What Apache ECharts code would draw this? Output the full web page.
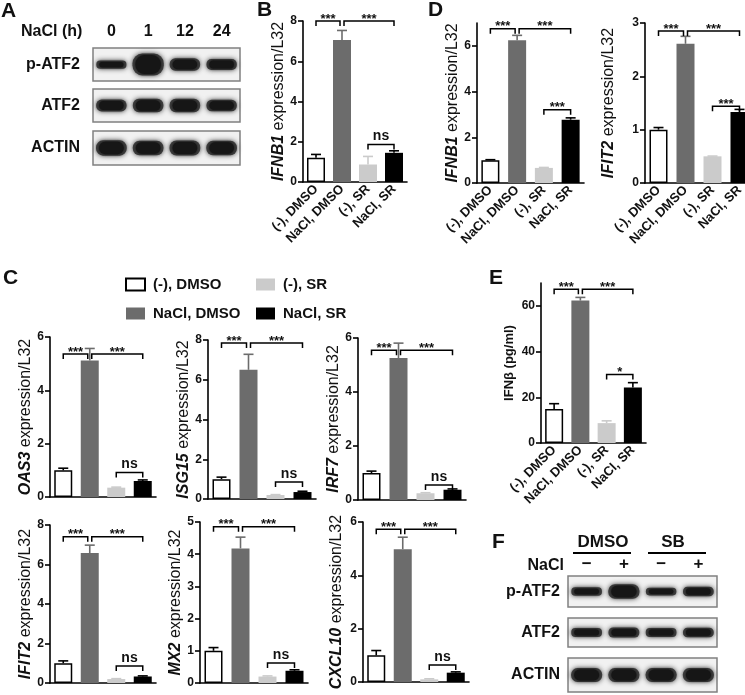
<!DOCTYPE html>
<html><head><meta charset="utf-8">
<script src="https://cdn.jsdelivr.net/npm/echarts@6/dist/echarts.min.js"></script>
<style>html,body{margin:0;padding:0;background:#fff}#c{width:745px;height:695px}</style>
</head><body><div id="c"></div>
<script>
// ---------- DATA ----------
const groups = ['(-), DMSO', 'NaCl, DMSO', '(-), SR', 'NaCl, SR'];

// Panel B
const ifnb1B = [1.2, 7.05, 0.87, 1.45];
const ifnb1BErr = [0.17, 0.48, 0.4, 0.1];
const ifnb1BSig = [[0, 1, 8.0], [1, 3, 8.0], [2, 3, 1.86]];
const ifnb1BSigText = ['***', '***', 'ns'];

// Panel D
const ifnb1D = [1.0, 6.24, 0.66, 2.77];
const ifnb1DErr = [0.02, 0.22, 0.02, 0.08];
const ifnb1DSig = [[0, 1, 6.75], [1, 3, 6.75], [2, 3, 3.2]];
const ifnb1DSigText = ['***', '***', '***'];
const ifit2D = [1.0, 2.61, 0.5, 1.33];
const ifit2DErr = [0.04, 0.14, 0.005, 0.05];
const ifit2DSig = [[0, 1, 2.85], [1, 3, 2.85], [2, 3, 1.44]];
const ifit2DSigText = ['***', '***', '***'];

// Panel C
const oas3 = [1.0, 5.12, 0.35, 0.6];
const oas3Err = [0.08, 0.45, 0.02, 0.04];
const oas3Sig = [[0, 1, 5.36], [1, 3, 5.36], [2, 3, 0.92]];
const isg15 = [1.0, 6.5, 0.2, 0.35];
const isg15Err = [0.1, 0.78, 0.02, 0.04];
const isg15Sig = [[0, 1, 7.85], [1, 3, 7.85], [2, 3, 0.85]];
const irf7 = [1.0, 5.26, 0.25, 0.38];
const irf7Err = [0.07, 0.55, 0.02, 0.03];
const irf7Sig = [[0, 1, 5.55], [1, 3, 5.55], [2, 3, 0.56]];
const ifit2C = [1.0, 6.58, 0.2, 0.33];
const ifit2CErr = [0.12, 0.4, 0.02, 0.03];
const ifit2CSig = [[0, 1, 7.4], [1, 3, 7.4], [2, 3, 0.86]];
const mx2 = [1.0, 4.18, 0.2, 0.38];
const mx2Err = [0.1, 0.35, 0.02, 0.03];
const mx2Sig = [[0, 1, 4.85], [1, 3, 4.85], [2, 3, 0.62]];
const cxcl10 = [1.0, 4.98, 0.1, 0.35];
const cxcl10Err = [0.18, 0.45, 0.02, 0.03];
const cxcl10Sig = [[0, 1, 5.73], [1, 3, 5.73], [2, 3, 0.64]];
const cSigText = ['***', '***', 'ns'];

// Panel E
const ifnbE = [14.9, 62.3, 8.7, 24.3];
const ifnbEErr = [2.3, 1.4, 1.0, 2.1];
const ifnbESig = [[0, 1, 67.3], [1, 3, 67.3], [2, 3, 30.0]];
const ifnbESigText = ['***', '***', '*'];

// Western blots (relative band thickness)
const lanesA = ['0', '1', '12', '24'];
const bandA_pATF2 = [0.25, 0.66, 0.38, 0.33];
const bandA_ATF2 = [0.36, 0.41, 0.41, 0.35];
const bandA_ACTIN = [0.45, 0.42, 0.44, 0.42];
const lanesF = ['\u2212', '+', '\u2212', '+'];
const bandF_pATF2 = [0.27, 0.47, 0.25, 0.31];
const bandF_ATF2 = [0.31, 0.35, 0.31, 0.33];
const bandF_ACTIN = [0.41, 0.41, 0.41, 0.41];

// ---------- STYLE ----------
const FF = 'Liberation Sans, Arial, Helvetica, sans-serif';
const barColors = ['#ffffff', '#6c6c6c', '#cbcbcb', '#000000'];
const errColors = ['#000000', '#6c6c6c', '#cbcbcb', '#000000'];

const chart = echarts.init(document.getElementById('c'));
const grids = [], xAxes = [], yAxes = [], series = [];

function errRender(params, api) {
  const i = api.value(0), m = api.value(1), e = api.value(2);
  const p0 = api.coord([i, m]), p1 = api.coord([i, m + e]);
  const c = errColors[i];
  return { type: 'group', children: [
    { type: 'line', shape: { x1: p0[0], y1: p0[1], x2: p1[0], y2: p1[1] }, style: { stroke: c, lineWidth: 1.6 } },
    { type: 'line', shape: { x1: p1[0] - 5, y1: p1[1], x2: p1[0] + 5, y2: p1[1] }, style: { stroke: c, lineWidth: 1.6 } }
  ]};
}
function bracketRender(texts) {
  return function (params, api) {
    const x1 = api.value(0), x2 = api.value(1), y = api.value(2);
    const a = api.coord([x1, y]), b = api.coord([x2, y]);
    let ax = a[0], bx = b[0];
    if (x1 === 1) ax += 2;
    if (x2 === 1) bx -= 2;
    const ly = a[1], d = 5;
    const t = texts[params.dataIndex];
    const isNs = t === 'ns';
    return { type: 'group', children: [
      { type: 'polyline', shape: { points: [[ax, ly + d], [ax, ly], [bx, ly], [bx, ly + d]] }, style: { stroke: '#000', lineWidth: 1.5, fill: null } },
      { type: 'text', x: (ax + bx) / 2, y: ly - (isNs ? 8 : 2),
        style: { text: t, align: 'center', verticalAlign: 'middle', fill: '#111',
          font: (isNs ? 'bold 14px ' : 'bold 13px ') + FF } }
    ]};
  };
}

function addBarChart(cfg) {
  const k = grids.length;
  grids.push({ left: cfg.left, top: cfg.top, width: cfg.width, height: cfg.height, containLabel: false, outerBoundsMode: 'none' });
  xAxes.push({ type: 'category', gridIndex: k, data: groups,
    axisLine: { show: true, onZero: false, lineStyle: { color: '#000', width: 1.6 } },
    axisTick: { show: false }, splitLine: { show: false },
    axisLabel: { show: !!cfg.xlabels, rotate: 45, interval: 0, margin: 5, fontSize: 13, fontWeight: 'bold', color: '#111', fontFamily: FF } });
  const yAxis = { type: 'value', gridIndex: k, min: 0, max: cfg.max, interval: cfg.interval,
    axisLine: { show: true, lineStyle: { color: '#000', width: 1.6 } },
    axisTick: { show: true, length: 5, lineStyle: { color: '#000', width: 1.6 } },
    axisLabel: { fontSize: 12, fontWeight: 'bold', color: '#111', margin: 6, fontFamily: FF },
    splitLine: { show: false },
    name: cfg.name, nameLocation: 'middle', nameGap: cfg.gap,
    nameTextStyle: cfg.nameStyle || { fontSize: 16, color: '#111', fontFamily: FF,
      rich: { i: { fontSize: 16, fontStyle: 'italic', fontWeight: 'bold', color: '#111', fontFamily: FF },
              n: { fontSize: 16, color: '#111', fontFamily: FF } } } };
  if (cfg.ticks) {
    yAxis.axisTick.customValues = cfg.ticks;
    yAxis.axisLabel.customValues = cfg.ticks;
  }
  yAxes.push(yAxis);
  series.push({ type: 'bar', xAxisIndex: k, yAxisIndex: k, barWidth: 18, silent: true, z: 2,
    data: cfg.vals.map((v, i) => ({ value: v, itemStyle: { color: barColors[i], borderColor: i === 0 ? '#000' : barColors[i], borderWidth: i === 0 ? 1.5 : 0 } })) });
  series.push({ type: 'custom', xAxisIndex: k, yAxisIndex: k, silent: true, z: 3, renderItem: errRender,
    encode: { x: 0, y: 1 }, data: cfg.vals.map((v, i) => [i, v, cfg.errs[i]]) });
  series.push({ type: 'custom', xAxisIndex: k, yAxisIndex: k, silent: true, z: 4, renderItem: bracketRender(cfg.sigText),
    encode: { x: [0, 1], y: 2 }, data: cfg.sig });
}

function bandRender(params, api) {
  const lane = api.value(0), t = api.value(2);
  const c = api.coord([lane, 0]);
  const cs = params.coordSys;
  const h = t * cs.height;
  const w = cs.width / 4 * (0.8 + 0.08 * t);
  return { type: 'group', children: [
    { type: 'rect', shape: { x: c[0] - w / 2, y: c[1] - h / 2, width: w, height: h, r: [h / 2.2, h / 2.2, h / 2.2, h / 2.2] },
      style: { fill: '#3c3c3c', shadowBlur: 5, shadowColor: 'rgba(30,30,30,0.85)' } },
    { type: 'rect', shape: { x: c[0] - w / 2 + 3, y: c[1] - h / 2 + 1.5, width: w - 6, height: Math.max(h - 3, 1), r: h / 2.4 },
      style: { fill: '#161616', shadowBlur: 3, shadowColor: 'rgba(0,0,0,0.8)' } }
  ]};
}

function addBlot(cfg) {
  const k = grids.length;
  grids.push({ left: cfg.left, top: cfg.top, width: cfg.width, height: cfg.height, show: true,
    borderColor: '#808080', borderWidth: 1.5, backgroundColor: '#f1f1f1', containLabel: false, outerBoundsMode: 'none' });
  xAxes.push({ type: 'category', gridIndex: k, data: cfg.lanes, position: 'top',
    axisLine: { show: false }, axisTick: { show: false }, splitLine: { show: false },
    axisLabel: { show: !!cfg.header, interval: 0, margin: cfg.headerMargin || 8, fontSize: cfg.headerSize || 16, fontWeight: 'bold', color: '#111', fontFamily: FF } });
  yAxes.push({ type: 'category', gridIndex: k, data: [cfg.row],
    axisLine: { show: false }, axisTick: { show: false }, splitLine: { show: false },
    axisLabel: { show: true, margin: cfg.rowMargin, fontSize: 16, fontWeight: 'bold', color: '#111', fontFamily: FF } });
  series.push({ type: 'custom', xAxisIndex: k, yAxisIndex: k, silent: true, renderItem: bandRender,
    encode: { x: 0, y: 1 }, data: cfg.bands.map((b, i) => [i, 0, b]) });
}

// ---------- BUILD ----------
// Panel A blots
addBlot({ left: 93, top: 48, width: 147, height: 33, lanes: lanesA, row: 'p-ATF2', bands: bandA_pATF2, rowMargin: 13, header: true, headerMargin: 8 });
addBlot({ left: 93, top: 89, width: 147, height: 33, lanes: lanesA, row: 'ATF2', bands: bandA_ATF2, rowMargin: 13 });
addBlot({ left: 93, top: 131, width: 147, height: 34, lanes: lanesA, row: 'ACTIN', bands: bandA_ACTIN, rowMargin: 13 });
// Panel F blots
addBlot({ left: 568, top: 576, width: 149, height: 31, lanes: lanesF, row: 'p-ATF2', bands: bandF_pATF2, rowMargin: 8, header: true, headerMargin: 3, headerSize: 17 });
addBlot({ left: 568, top: 618, width: 149, height: 29, lanes: lanesF, row: 'ATF2', bands: bandF_ATF2, rowMargin: 8 });
addBlot({ left: 568, top: 658, width: 149, height: 34, lanes: lanesF, row: 'ACTIN', bands: bandF_ACTIN, rowMargin: 8 });

// Panel B
addBarChart({ vals: ifnb1B, errs: ifnb1BErr, sig: ifnb1BSig, sigText: ifnb1BSigText, name: '{i|IFNB1}{n| expression/L32}',
  left: 303, top: 21, width: 104, height: 161, max: 8, interval: 2, gap: 16, xlabels: true });
// Panel D
addBarChart({ vals: ifnb1D, errs: ifnb1DErr, sig: ifnb1DSig, sigText: ifnb1DSigText, name: '{i|IFNB1}{n| expression/L32}',
  left: 477, top: 23, width: 107, height: 160, max: 7, interval: 1, ticks: [0, 2, 4, 6], gap: 15, xlabels: true });
addBarChart({ vals: ifit2D, errs: ifit2DErr, sig: ifit2DSig, sigText: ifit2DSigText, name: '{i|IFIT2}{n| expression/L32}',
  left: 645, top: 23, width: 108, height: 160, max: 3, interval: 1, gap: 28, xlabels: true });
// Panel C
addBarChart({ vals: oas3, errs: oas3Err, sig: oas3Sig, sigText: cSigText, name: '{i|OAS3}{n| expression/L32}',
  left: 50, top: 337, width: 106, height: 160, max: 6, interval: 2, gap: 15 });
addBarChart({ vals: isg15, errs: isg15Err, sig: isg15Sig, sigText: cSigText, name: '{i|ISG15}{n| expression/L32}',
  left: 208, top: 340, width: 108, height: 159, max: 8, interval: 2, gap: 16 });
addBarChart({ vals: irf7, errs: irf7Err, sig: irf7Sig, sigText: cSigText, name: '{i|IRF7}{n| expression/L32}',
  left: 358, top: 338, width: 108, height: 162, max: 6, interval: 2, gap: 16 });
addBarChart({ vals: ifit2C, errs: ifit2CErr, sig: ifit2CSig, sigText: cSigText, name: '{i|IFIT2}{n| expression/L32}',
  left: 50, top: 525, width: 106, height: 158, max: 8, interval: 2, gap: 12 });
addBarChart({ vals: mx2, errs: mx2Err, sig: mx2Sig, sigText: cSigText, name: '{i|MX2}{n| expression/L32}',
  left: 200, top: 522, width: 108, height: 161, max: 5, interval: 1, gap: 9 });
addBarChart({ vals: cxcl10, errs: cxcl10Err, sig: cxcl10Sig, sigText: cSigText, name: '{i|CXCL10}{n| expression/L32}',
  left: 363, top: 522, width: 106, height: 160, max: 6, interval: 2, gap: 18 });
// Panel E
addBarChart({ vals: ifnbE, errs: ifnbEErr, sig: ifnbESig, sigText: ifnbESigText, name: 'IFN\u03b2 (pg/ml)',
  nameStyle: { fontSize: 13, fontWeight: 'bold', color: '#111', fontFamily: FF },
  left: 541, top: 283, width: 105, height: 160, max: 70, interval: 10, ticks: [0, 20, 40, 60], gap: 25, xlabels: true });

// Legend carrier (hidden grid)
const lk = grids.length;
grids.push({ left: 0, top: 0, width: 1, height: 1, outerBoundsMode: 'none', containLabel: false });
xAxes.push({ type: 'category', gridIndex: lk, show: false, data: ['x'] });
yAxes.push({ type: 'value', gridIndex: lk, show: false });
groups.forEach((g, i) => series.push({ type: 'bar', name: g, xAxisIndex: lk, yAxisIndex: lk, data: [],
  itemStyle: { color: barColors[i], borderColor: i === 0 ? '#000' : barColors[i], borderWidth: i === 0 ? 1.5 : 0 } }));

const legendText = { fontSize: 15, fontWeight: 'bold', color: '#111', fontFamily: FF, lineHeight: 12, padding: [0, 0, 0, 3] };

const panelLetter = (t, x, y) => ({ type: 'text', x: x, y: y, style: { text: t, font: 'bold 21px ' + FF, fill: '#111', align: 'left', verticalAlign: 'middle' } });

chart.setOption({
  animation: false,
  backgroundColor: '#ffffff',
  grid: grids, xAxis: xAxes, yAxis: yAxes, series: series,
  legend: [
    { data: [groups[0], groups[1]], orient: 'vertical', left: 125, top: 277, itemWidth: 19, itemHeight: 12, itemGap: 14,
      icon: 'rect', selectedMode: false, textStyle: legendText, padding: 0 },
    { data: [groups[2], groups[3]], orient: 'vertical', left: 256, top: 277, itemWidth: 19, itemHeight: 12, itemGap: 14,
      icon: 'rect', selectedMode: false, textStyle: legendText, padding: 0 }
  ],
  graphic: [
    panelLetter('A', 1, 11), panelLetter('B', 257, 10), panelLetter('D', 428, 10),
    panelLetter('C', 3, 278), panelLetter('E', 489, 278), panelLetter('F', 492, 542),
    { type: 'text', x: 21, y: 32, style: { text: 'NaCl (h)', font: 'bold 16px ' + FF, fill: '#111', align: 'left', verticalAlign: 'middle' } },
    { type: 'text', x: 603, y: 542, style: { text: 'DMSO', font: 'bold 17px ' + FF, fill: '#111', align: 'center', verticalAlign: 'middle' } },
    { type: 'text', x: 673, y: 542, style: { text: 'SB', font: 'bold 17px ' + FF, fill: '#111', align: 'center', verticalAlign: 'middle' } },
    { type: 'line', shape: { x1: 573, y1: 553, x2: 631, y2: 553 }, style: { stroke: '#000', lineWidth: 2 } },
    { type: 'line', shape: { x1: 648, y1: 553, x2: 706, y2: 553 }, style: { stroke: '#000', lineWidth: 2 } },
    { type: 'text', x: 564, y: 566, style: { text: 'NaCl', font: 'bold 16px ' + FF, fill: '#111', align: 'right', verticalAlign: 'middle' } }
  ]
});
</script></body></html>
